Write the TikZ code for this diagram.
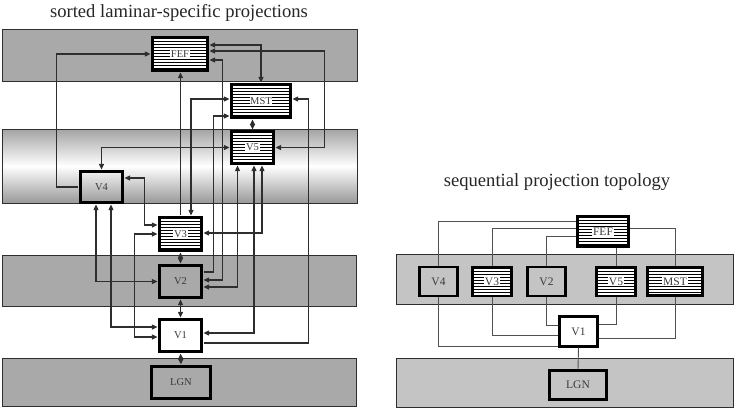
\documentclass[tikz,border=0pt]{standalone}
\usepackage{fontspec}
\setmainfont{Liberation Serif}
\usetikzlibrary{arrows.meta}
\definecolor{bandgray}{HTML}{A9A9A9}
\definecolor{bandlight}{HTML}{C4C4C4}
\definecolor{linegray}{HTML}{2E2E2E}
\definecolor{rlinegray}{HTML}{505050}
\definecolor{textgray}{HTML}{3A3A3A}
\newcommand{\lbl}[1]{{\setlength{\fboxsep}{0.7pt}\colorbox{white}{#1}}}
\begin{document}
\begin{tikzpicture}[x=1pt,y=-1pt,
  >={Triangle[length=5.5pt,width=5pt]},
  band/.style={draw=linegray,line width=0.9pt,fill=bandgray},
  rband/.style={draw=linegray,line width=0.9pt,fill=bandlight},
  box/.style 2 args={draw=black,line width=2.6pt,minimum width=#1,minimum height=#2,inner sep=0pt,
     font=\fontsize{10.5}{12}\selectfont,text=textgray},
  rbox/.style 2 args={draw=black,line width=2.3pt,minimum width=#1,minimum height=#2,inner sep=0pt,
     font=\fontsize{11.5}{13}\selectfont,text=textgray},
  hatch/.style={fill=white,path picture={
     \foreach \k in {0,...,14}{
       \draw[line width=1.2pt,black]
         ([yshift={-(3*\k+1.2)*1pt}]path picture bounding box.north west) --
         ([yshift={-(3*\k+1.2)*1pt}]path picture bounding box.north east);}}},
  conn/.style={draw=linegray,line width=1.1pt,shorten >=0.8pt,shorten <=0.8pt},
  link/.style={draw=rlinegray,line width=0.9pt},
  title/.style={text=black!85,font=\fontsize{18.6}{21}\selectfont}
]
\useasboundingbox (0,0) rectangle (734,408);

% ---------- left: bands ----------
\path[band] (2,29) rectangle (357,81);
\path[draw=linegray,line width=0.9pt,top color=black!36,bottom color=black!40,middle color=white] (2,129) rectangle (357,203);
\path[band] (2,255) rectangle (356,306);
\path[band] (2,358) rectangle (356,406);

\node[title] (t1) at (179,13) {sorted laminar-specific projections};

% ---------- left: boxes ----------
\node[box={55}{33},hatch] (FEF) at (180,54) {\lbl{FEF}};
\node[box={59}{33},hatch] (MST) at (261,101) {\lbl{MST}};
\node[box={42}{32},hatch] (V5) at (252.5,147.5) {\lbl{V5}};
\node[box={42}{31}] (V4) at (101.5,187) {V4};
\node[box={42}{33},hatch] (V3) at (180.5,234) {\lbl{V3}};
\node[box={42}{32}] (V2) at (180.5,281.5) {V2};
\node[box={42}{32},fill=white] (V1) at (180.5,335.5) {V1};
\node[box={59}{32}] (LGN) at (181,382.5) {LGN};

% ---------- left: connectors ----------
\draw[conn,->] (V4.west) -- ++(-23,0) |- (FEF.west);
\draw[conn,->] (V3.north) -- (V3.north |- FEF.south);
\draw[conn,<->] ([xshift=10.5pt]V3.north) |- ([yshift=2pt]MST.west);
\draw[conn,->] ([yshift=9.5pt]V2.east) -- ++(11,0) |- ([yshift=-15pt]MST.west);
\draw[conn,<->] ([yshift=-6pt]FEF.east) -- ++(14,0) |- ([yshift=1.5pt]V2.east);
\draw[conn,<->] ([yshift=9pt]FEF.east) -| (MST.north);
\draw[conn,<->] ([yshift=3pt]FEF.east) -- ++(116,0) |- (V5.east);
\draw[conn,->] ([yshift=-7.5pt]V1.east) -- ++(106,0) |- ([yshift=2pt]MST.east);
\draw[conn,<->] (V5.north) -- (V5.north |- MST.south);
\draw[conn,<->] (V4.north) |- (V5.west);
\draw[conn,<->] ([xshift=-15pt]V5.south) |- ([yshift=-5.5pt]V2.east);
\draw[conn,<->] ([xshift=1.5pt]V5.south) |- ([yshift=2.5pt]V1.east);
\draw[conn,<->] ([xshift=9.5pt]V5.south) |- ([yshift=1pt]V3.east);
\draw[conn,<->] ([yshift=9pt]V4.east) -- ++(21,0) |- ([yshift=9pt]V3.west);
\draw[conn,<->] (V3.west) -- ++(-24,0) |- ([yshift=-1.5pt]V1.west);
\draw[conn,<->] ([xshift=-5.5pt]V4.south) |- (V2.west);
\draw[conn,<->] ([xshift=9.5pt]V4.south) |- ([yshift=8.5pt]V1.west);
\draw[conn,<->] (V3.south) -- (V2.north);
\draw[conn,<->] (V2.south) -- (V1.north);
\draw[conn,<->,line width=2pt] (V1.south) -- (LGN.north);

% ---------- right ----------
\path[rband] (396,254) rectangle (733,304);
\path[rband] (396,358) rectangle (733,407);

\node[title] (t2) at (557,182) {sequential projection topology};

\node[rbox={51}{30},hatch] (FEFb) at (603,231.5) {\lbl{FEF}};
\node[rbox={38}{29}] (V4b) at (438.5,281.5) {V4};
\node[rbox={39}{29},hatch] (V3b) at (492,281.5) {\lbl{V3}};
\node[rbox={38}{29}] (V2b) at (546.5,281.5) {V2};
\node[rbox={39}{29},hatch] (V5b) at (616,281.5) {\lbl{V5}};
\node[rbox={55}{28},hatch,line width=3pt] (MSTb) at (675,281.5) {\lbl{MST}};
\node[rbox={38}{30},fill=white] (V1b) at (578.5,331.5) {V1};
\node[rbox={57}{29}] (LGNb) at (578,385) {LGN};

\draw[link] ([yshift=10.5pt]FEFb.west) -| (V4b.north);
\draw[link] ([yshift=3.5pt]FEFb.west) -| (V3b.north);
\draw[link] ([yshift=-4.5pt]FEFb.west) -| (V2b.north);
\draw[link] (V5b.north) -- (V5b.north |- FEFb.south);
\draw[link] ([yshift=3.5pt]FEFb.east) -| (MSTb.north);
\draw[link] (V4b.south) |- ([yshift=-14.5pt]V1b.west);
\draw[link] (V3b.south) |- ([yshift=-3.5pt]V1b.west);
\draw[link] (V2b.south) |- ([yshift=6.5pt]V1b.west);
\draw[link] (V5b.south) |- ([yshift=7.5pt]V1b.east);
\draw[link] (MSTb.south) |- ([yshift=-6.5pt]V1b.east);
\draw[link] (V1b.south) -- (LGNb.north);
\end{tikzpicture}
\end{document}
